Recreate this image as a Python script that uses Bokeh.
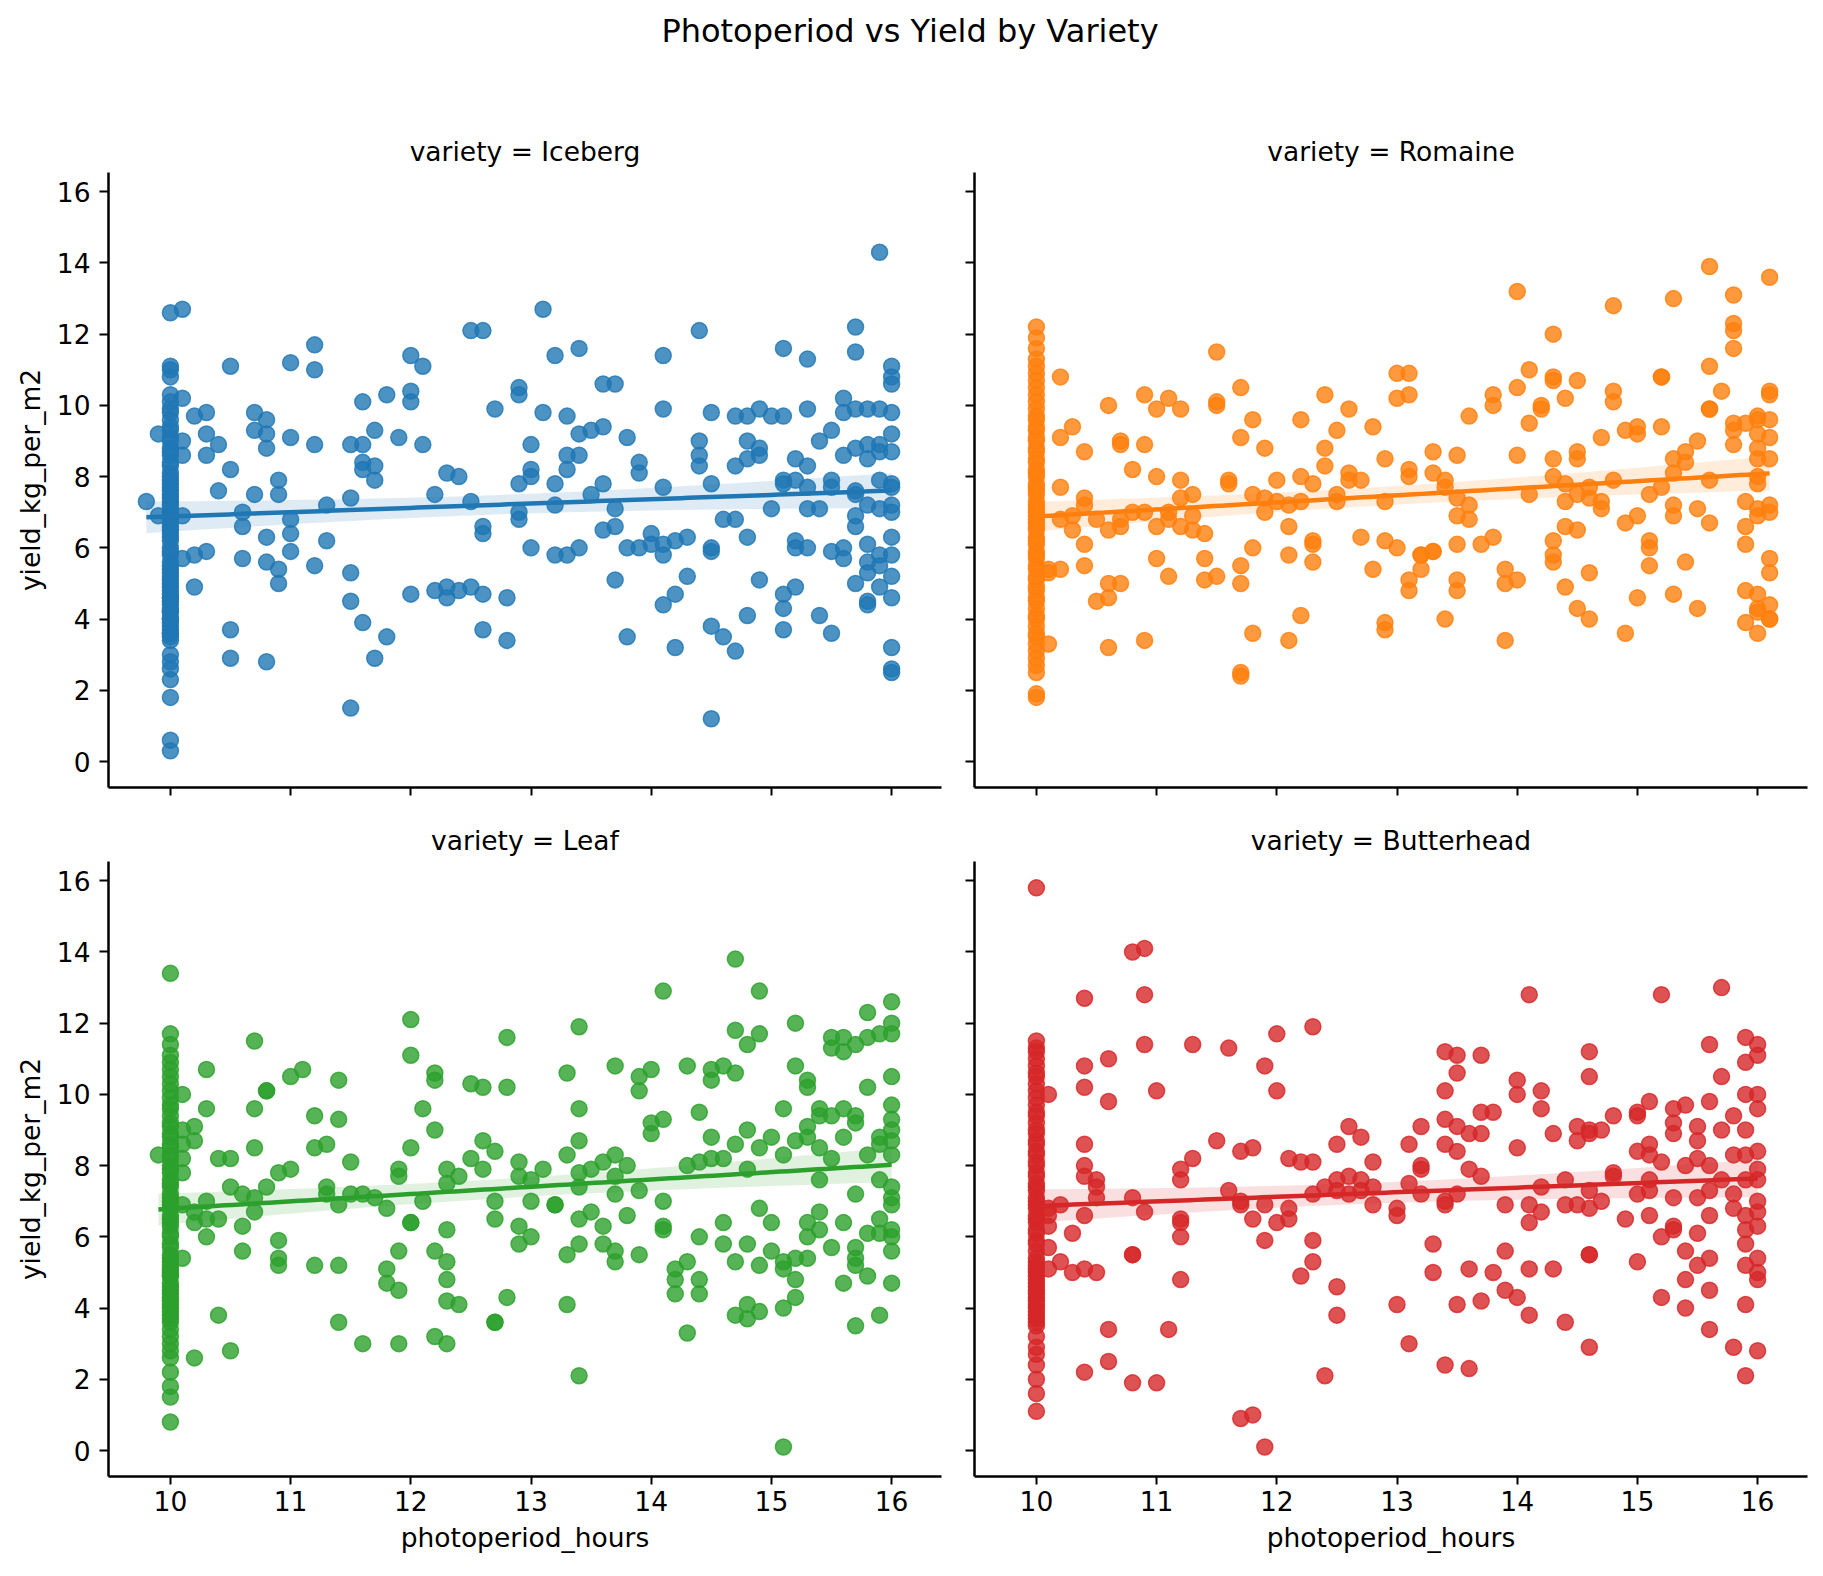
import numpy as np
from bokeh.plotting import figure
from bokeh.layouts import column, row
from bokeh.models import Div, FixedTicker, CustomJSTickFormatter, Range1d
from bokeh.embed import file_html
from bokeh.resources import INLINE

FONT = "DejaVu Sans"

# ---------------- data ----------------
varieties = ["Iceberg", "Romaine", "Leaf", "Butterhead"]
colors = ["#1f77b4", "#ff7f0e", "#2ca02c", "#d62728"]
x_ticks = [10, 11, 12, 13, 14, 15, 16]
y_ticks = [0, 2, 4, 6, 8, 10, 12, 14, 16]
chart_title = "Photoperiod vs Yield by Variety"
x_label = "photoperiod_hours"
y_label = "yield_kg_per_m2"

# yield values (kg/m2) grouped by photoperiod hours
iceberg = {
    9.8: [7.3], 9.9: [9.2, 6.9],
    10.0: [0.3, 0.6, 1.8, 2.3, 2.6, 2.8, 3.0, 3.4, 3.5, 3.6, 3.6, 3.7, 3.8, 3.9, 4.0, 4.0, 4.2, 4.2,
           4.3, 4.4, 4.5, 4.6, 4.6, 4.7, 4.8, 4.9, 5.0, 5.1, 5.2, 5.3, 5.4, 5.5, 5.6, 5.8, 5.9, 6.0,
           6.2, 6.3, 6.4, 6.5, 6.6, 6.7, 6.8, 6.9, 7.0, 7.1, 7.2, 7.3, 7.4, 7.5, 7.6, 7.7, 7.8, 7.9,
           8.0, 8.1, 8.3, 8.4, 8.6, 8.7, 8.8, 9.0, 9.1, 9.3, 9.4, 9.6, 9.8, 9.9, 10.1, 10.3, 10.8,
           11.0, 11.1, 12.6],
    10.1: [12.7, 10.2, 9.0, 8.6, 6.9, 5.7], 10.2: [9.7, 5.8, 4.9], 10.3: [9.8, 9.2, 8.6, 5.9],
    10.4: [8.9, 7.6], 10.5: [11.1, 8.2, 3.7, 2.9], 10.6: [7.0, 6.6, 5.7], 10.7: [9.8, 9.3, 7.5],
    10.8: [9.6, 9.2, 8.8, 6.3, 5.6, 2.8], 10.9: [7.9, 7.5, 5.4, 5.0], 11.0: [11.2, 9.1, 6.8, 6.4, 5.9],
    11.2: [11.7, 11.0, 8.9, 5.5], 11.3: [7.2, 6.2], 11.5: [8.9, 7.4, 5.3, 4.5, 1.5],
    11.6: [10.1, 8.9, 8.4, 8.2, 3.9], 11.7: [9.3, 8.3, 7.9, 2.9], 11.8: [10.3, 3.5], 11.9: [9.1],
    12.0: [11.4, 10.4, 10.1, 4.7], 12.1: [11.1, 8.9], 12.2: [7.5, 4.8], 12.3: [8.1, 4.9, 4.6],
    12.4: [8.0, 4.8], 12.5: [12.1, 7.3, 4.9], 12.6: [12.1, 6.6, 6.4, 4.7, 3.7], 12.7: [9.9],
    12.8: [4.6, 3.4], 12.9: [10.5, 10.3, 7.8, 7.0, 6.8], 13.0: [8.9, 8.2, 8.0, 6.0], 13.1: [12.7, 9.8],
    13.2: [11.4, 7.8, 7.2, 5.8], 13.3: [9.7, 8.6, 8.2, 5.8], 13.4: [11.6, 9.2, 8.6, 6.0], 13.5: [9.3, 7.5],
    13.6: [10.6, 9.4, 7.8, 6.5], 13.7: [10.6, 7.1, 6.6, 5.1], 13.8: [9.1, 6.0, 3.5], 13.9: [8.4, 8.1, 6.0],
    14.0: [6.4, 6.1], 14.1: [11.4, 9.9, 7.7, 6.1, 5.8, 4.4], 14.2: [6.2, 4.7, 3.2], 14.3: [6.3, 5.2],
    14.4: [12.1, 9.0, 8.6, 8.3], 14.5: [9.8, 7.8, 6.0, 5.9, 3.8, 1.2], 14.6: [6.8, 3.5],
    14.7: [9.7, 8.3, 6.8, 3.1], 14.8: [9.7, 9.0, 8.5, 6.3, 4.1], 14.9: [9.9, 8.8, 8.6, 5.1], 15.0: [9.7, 7.1],
    15.1: [11.6, 9.7, 7.9, 7.8, 4.7, 4.3, 3.7], 15.2: [8.5, 7.9, 6.2, 6.0, 4.9],
    15.3: [11.3, 9.9, 8.3, 7.7, 7.1, 6.0], 15.4: [9.0, 7.1, 4.1], 15.5: [9.3, 7.9, 7.7, 5.9, 3.6],
    15.6: [10.2, 9.8, 8.6, 6.0, 5.7], 15.7: [12.2, 11.5, 9.9, 8.8, 7.6, 7.5, 6.9, 6.6, 5.0],
    15.8: [9.9, 8.9, 8.5, 7.2, 6.1, 5.6, 5.3, 4.5, 4.4], 15.9: [14.3, 9.9, 8.9, 8.7, 7.9, 7.1, 5.8, 5.5, 4.9],
    16.0: [11.1, 10.8, 10.6, 9.8, 9.2, 8.7, 7.8, 7.7, 7.2, 7.0, 6.3, 5.8, 5.2, 4.6, 3.2, 2.6, 2.5],
}

romaine = {
    10.0: [1.8, 1.9, 2.5, 2.7, 2.9, 3.1, 3.3, 3.5, 3.6, 3.8, 4.0, 4.1, 4.3, 4.5, 4.6, 4.8, 4.9, 5.1,
           5.2, 5.4, 5.5, 5.7, 5.8, 5.9, 6.1, 6.2, 6.3, 6.5, 6.6, 6.7, 6.8, 6.9, 7.0, 7.1, 7.2, 7.3,
           7.5, 7.6, 7.7, 7.8, 8.0, 8.1, 8.2, 8.4, 8.5, 8.7, 8.8, 9.0, 9.1, 9.3, 9.4, 9.6, 9.7, 9.9,
           10.1, 10.3, 10.5, 10.7, 10.9, 11.1, 11.3, 11.6, 11.9, 12.2],
    10.1: [5.4, 5.3, 3.3], 10.2: [10.8, 9.1, 7.7, 6.8, 5.4], 10.3: [9.4, 6.9, 6.5],
    10.4: [8.7, 7.4, 7.2, 6.1, 5.5], 10.5: [6.8, 4.5], 10.6: [10.0, 6.5, 5.0, 4.6, 3.2],
    10.7: [9.0, 8.9, 6.8, 6.6, 5.0], 10.8: [8.2, 7.0], 10.9: [10.3, 8.9, 7.0, 3.4],
    11.0: [9.9, 8.0, 6.6, 5.7], 11.1: [10.2, 7.0, 6.8, 5.2], 11.2: [9.9, 7.9, 7.4, 6.6],
    11.3: [7.5, 6.9, 6.5], 11.4: [6.4, 5.7, 5.1], 11.5: [11.5, 10.1, 10.0, 5.2], 11.6: [7.9, 7.8],
    11.7: [10.5, 9.1, 5.5, 5.0, 2.5, 2.4], 11.8: [9.6, 7.5, 6.0, 3.6], 11.9: [8.8, 7.4, 7.0],
    12.0: [7.9, 7.3], 12.1: [7.2, 6.6, 5.8, 3.4], 12.2: [9.6, 8.0, 7.3, 4.1], 12.3: [7.8, 6.2, 6.1, 5.6],
    12.4: [10.3, 8.8, 8.3], 12.5: [9.3, 7.5, 7.3], 12.6: [9.9, 8.1, 7.9], 12.7: [7.9, 6.3], 12.8: [9.4, 5.4],
    12.9: [8.5, 7.3, 6.2, 3.9, 3.7], 13.0: [10.9, 10.2, 6.0], 13.1: [10.9, 10.3, 8.2, 8.0, 5.1, 4.8],
    13.2: [5.8, 5.8, 5.4], 13.3: [8.7, 8.1, 5.9, 5.9], 13.4: [7.9, 7.7, 4.0],
    13.5: [8.6, 7.4, 6.9, 6.1, 5.1, 4.8], 13.6: [9.7, 7.2, 6.8], 13.7: [6.1], 13.8: [10.3, 10.0, 6.3],
    13.9: [5.4, 5.0, 3.4], 14.0: [13.2, 10.5, 8.6, 5.1], 14.1: [11.0, 9.5, 7.5], 14.2: [10.0, 9.9],
    14.3: [12.0, 10.8, 10.7, 8.5, 8.0, 6.2, 5.8, 5.6], 14.4: [10.2, 7.8, 7.3, 6.6, 4.9],
    14.5: [10.7, 8.7, 8.5, 7.5, 6.5, 4.3], 14.6: [7.7, 7.4, 5.3, 4.0], 14.7: [9.1, 7.3, 7.1],
    14.8: [12.8, 10.4, 10.1, 7.9], 14.9: [9.3, 6.7, 3.6], 15.0: [9.4, 9.2, 6.9, 4.6],
    15.1: [7.5, 6.2, 6.0, 5.5], 15.2: [10.8, 10.8, 9.4, 7.7], 15.3: [13.0, 8.5, 8.1, 7.2, 6.9, 4.7],
    15.4: [8.7, 8.4, 5.6], 15.5: [9.0, 7.1, 4.3], 15.6: [13.9, 11.1, 9.9, 9.9, 7.9, 6.7], 15.7: [10.4],
    15.8: [13.1, 12.3, 12.1, 11.6, 9.5, 9.3, 8.9], 15.9: [9.5, 7.3, 6.6, 6.1, 4.8, 3.9],
    16.0: [9.7, 9.6, 9.2, 8.8, 8.5, 8.0, 7.8, 7.1, 6.9, 4.7, 4.3, 4.2, 3.6],
    16.1: [13.6, 10.4, 10.3, 9.6, 9.1, 8.5, 7.2, 7.0, 5.7, 5.3, 4.4, 4.0, 4.0],
}

leaf = {
    9.9: [8.3],
    10.0: [0.8, 1.5, 1.8, 2.2, 2.6, 2.8, 3.0, 3.2, 3.4, 3.6, 3.7, 3.8, 3.9, 4.0, 4.1, 4.2, 4.3, 4.4,
           4.5, 4.6, 4.7, 4.9, 4.9, 5.0, 5.1, 5.2, 5.3, 5.4, 5.5, 5.7, 5.8, 6.0, 6.1, 6.3, 6.4, 6.5,
           6.6, 6.8, 6.9, 7.0, 7.1, 7.2, 7.4, 7.5, 7.6, 7.8, 7.9, 8.0, 8.2, 8.3, 8.5, 8.6, 8.8, 8.9,
           9.1, 9.2, 9.4, 9.6, 9.7, 9.9, 10.1, 10.3, 10.5, 10.7, 10.9, 11.1, 11.4, 11.7, 13.4],
    10.1: [10.0, 9.0, 8.6, 8.2, 7.8, 6.9, 5.4], 10.2: [9.1, 8.7, 6.7, 6.4, 2.6],
    10.3: [10.7, 9.6, 7.0, 6.5, 6.0], 10.4: [8.2, 6.5, 3.8], 10.5: [8.2, 7.4, 2.8], 10.6: [7.2, 6.3, 5.6],
    10.7: [11.5, 9.6, 8.5, 7.1, 6.7], 10.8: [10.1, 10.1, 7.4], 10.9: [7.8, 5.9, 5.4, 5.2],
    11.0: [10.5, 7.9], 11.1: [10.7], 11.2: [9.4, 8.5, 5.2], 11.3: [8.6, 7.4, 7.2],
    11.4: [10.4, 9.3, 6.9, 5.2, 3.6], 11.5: [8.1, 7.2], 11.6: [7.2, 3.0], 11.7: [7.1],
    11.8: [6.8, 5.1, 4.7], 11.9: [7.9, 7.7, 5.6, 4.5, 3.0], 12.0: [12.1, 11.1, 8.5, 6.4, 6.4],
    12.1: [9.6, 7.0], 12.2: [10.6, 10.4, 9.0, 5.6, 3.2], 12.3: [7.9, 7.5, 6.2, 5.3, 4.8, 4.2, 3.0],
    12.4: [7.7, 4.1], 12.5: [10.3, 8.2], 12.6: [10.2, 8.7, 7.9], 12.7: [8.4, 7.0, 6.5, 3.6, 3.6],
    12.8: [11.6, 10.2, 4.3], 12.9: [8.1, 7.7, 6.3, 5.8], 13.0: [7.6, 7.0, 6.0], 13.1: [7.9],
    13.2: [6.9, 6.9], 13.3: [10.6, 8.3, 5.5, 4.1], 13.4: [11.9, 9.6, 8.7, 7.8, 7.4, 6.5, 5.8, 2.1],
    13.5: [7.9, 6.7], 13.6: [8.1, 6.3, 5.8], 13.7: [10.8, 8.3, 7.7, 7.2, 5.6, 5.3], 13.8: [8.0, 6.6],
    13.9: [10.5, 10.1, 7.3, 5.5], 14.0: [10.7, 9.2, 8.9], 14.1: [12.9, 9.3, 7.0, 6.3, 6.2],
    14.2: [5.1, 4.8, 4.4], 14.3: [10.8, 8.0, 5.3, 3.3], 14.4: [9.5, 8.1, 6.0, 4.8, 4.4],
    14.5: [10.7, 10.4, 8.8, 8.2], 14.6: [10.8, 8.2, 6.4, 5.8], 14.7: [13.8, 11.8, 10.6, 8.6, 5.3, 3.8],
    14.8: [11.4, 9.0, 7.9, 5.8, 4.1, 3.7], 14.9: [12.9, 11.7, 8.5, 6.8, 5.2, 3.9], 15.0: [8.8, 6.4, 5.6],
    15.1: [9.6, 8.3, 5.3, 5.1, 4.0, 0.1], 15.2: [12.0, 10.8, 8.7, 5.4, 4.8, 4.3],
    15.3: [10.4, 10.2, 9.1, 8.8, 6.4, 6.0, 5.4], 15.4: [9.6, 9.4, 8.5, 7.6, 6.7, 6.2],
    15.5: [11.6, 11.3, 9.4, 8.2, 5.7], 15.6: [11.6, 11.2, 9.6, 8.8, 6.4, 4.7],
    15.7: [11.4, 9.4, 9.2, 7.2, 5.7, 5.4, 5.2, 3.5], 15.8: [12.3, 11.6, 10.2, 8.3, 6.1, 4.9],
    15.9: [11.7, 8.8, 8.6, 7.6, 6.5, 6.1, 3.8],
    16.0: [12.6, 12.0, 11.7, 10.5, 9.7, 9.3, 9.0, 8.7, 8.3, 7.4, 7.1, 6.9, 6.2, 6.0, 5.6, 4.7],
}

butterhead = {
    10.0: [1.1, 1.6, 2.0, 2.4, 2.7, 2.9, 3.2, 3.5, 3.6, 3.7, 3.8, 3.9, 4.0, 4.1, 4.2, 4.3, 4.4, 4.5,
           4.6, 4.7, 4.8, 4.9, 5.0, 5.1, 5.2, 5.3, 5.4, 5.6, 5.8, 5.9, 6.1, 6.2, 6.4, 6.5, 6.6, 6.8,
           6.9, 7.0, 7.1, 7.3, 7.4, 7.5, 7.7, 7.8, 8.0, 8.1, 8.3, 8.4, 8.6, 8.7, 8.9, 9.0, 9.2, 9.4,
           9.5, 9.7, 9.9, 10.1, 10.3, 10.5, 10.6, 10.8, 11.0, 11.2, 11.3, 11.5, 15.8],
    10.1: [10.0, 6.8, 6.6, 6.3, 5.7, 5.1], 10.2: [6.9, 5.3], 10.3: [6.1, 5.0],
    10.4: [12.7, 10.8, 10.2, 8.6, 8.0, 7.7, 6.6, 5.1, 2.2], 10.5: [7.6, 7.4, 7.1, 5.0],
    10.6: [11.0, 9.8, 3.4, 2.5], 10.8: [14.0, 7.1, 5.5, 5.5, 1.9], 10.9: [14.1, 12.8, 11.4, 6.7],
    11.0: [10.1, 1.9], 11.1: [3.4], 11.2: [7.9, 7.6, 6.5, 6.4, 6.0, 4.8], 11.3: [11.4, 8.2],
    11.5: [8.7], 11.6: [11.3, 7.3], 11.7: [8.4, 7.0, 6.9, 0.9], 11.8: [8.5, 6.5, 1.0],
    11.9: [10.8, 6.9, 5.9, 0.1], 12.0: [11.7, 10.1, 6.4], 12.1: [8.2, 6.8, 6.5], 12.2: [8.1, 4.9],
    12.3: [11.9, 8.1, 7.2, 5.9, 5.3], 12.4: [7.4, 2.1], 12.5: [8.6, 7.6, 7.3, 4.6, 3.8],
    12.6: [9.1, 7.7, 7.2], 12.7: [8.8, 7.6, 7.3], 12.8: [8.1, 7.4, 6.9], 13.0: [6.8, 6.6, 4.1],
    13.1: [8.6, 7.5, 3.0], 13.2: [9.1, 8.0, 7.9, 7.2], 13.3: [5.8, 5.0],
    13.4: [11.2, 10.1, 9.3, 8.6, 7.0, 6.9, 2.4], 13.5: [11.1, 10.6, 9.1, 8.4, 7.2, 4.1],
    13.6: [8.9, 7.9, 5.1, 2.3], 13.7: [11.1, 9.5, 8.9, 7.7, 4.2], 13.8: [9.5, 5.0], 13.9: [6.9, 5.6, 4.5],
    14.0: [10.4, 10.0, 8.5, 4.3], 14.1: [12.8, 6.9, 6.4, 5.1, 3.8], 14.2: [10.1, 9.6, 7.4, 6.7],
    14.3: [8.9, 5.1], 14.4: [7.6, 6.9, 3.6], 14.5: [9.1, 8.7, 6.9],
    14.6: [11.2, 10.5, 9.0, 8.9, 7.3, 6.8, 5.5, 5.5, 2.9], 14.7: [9.0, 7.0], 14.8: [9.4, 7.8, 7.7],
    14.9: [6.5], 15.0: [9.5, 9.4, 8.4, 7.2, 5.3], 15.1: [9.8, 8.6, 8.3, 7.6, 7.3, 6.6],
    15.2: [12.8, 8.1, 6.0, 4.3], 15.3: [9.6, 9.2, 8.9, 7.1, 6.3, 6.2], 15.4: [9.7, 8.0, 5.6, 4.8, 4.0],
    15.5: [9.1, 8.7, 8.2, 7.1, 6.1, 5.2], 15.6: [11.4, 9.8, 8.0, 7.3, 6.6, 5.4, 4.5, 3.4],
    15.7: [13.0, 10.5, 9.0, 7.6], 15.8: [9.4, 8.3, 7.2, 6.8, 2.9],
    15.9: [11.6, 10.9, 10.0, 9.0, 8.3, 7.6, 6.6, 6.2, 5.8, 5.2, 4.1, 2.1],
    16.0: [11.4, 11.1, 10.0, 9.6, 8.4, 7.9, 7.6, 7.0, 6.7, 6.3, 5.4, 5.0, 4.8, 2.8],
}

datasets = [iceberg, romaine, leaf, butterhead]

# ---------------- layout constants ----------------
FRAME_W, FRAME_H = 833, 615
X_RANGE = (9.485, 16.415)
Y_RANGE = (-0.73, 16.54)


def flatten(d):
    xs, ys = [], []
    for h, vals in d.items():
        for v in vals:
            xs.append(h)
            ys.append(v)
    return np.array(xs, dtype=float), np.array(ys, dtype=float)


def make_panel(name, data, color, is_left, is_bottom):
    p = figure(
        frame_width=FRAME_W, frame_height=FRAME_H,
        x_range=Range1d(*X_RANGE), y_range=Range1d(*Y_RANGE),
        output_backend="svg", toolbar_location=None,
        min_border_left=108 if is_left else 28,
        min_border_right=5 if is_left else 12,
        min_border_top=54 if is_bottom else 68,
        min_border_bottom=95 if is_bottom else 20,
        title="variety = " + name,
    )
    p.outline_line_color = None
    p.grid.visible = False
    p.background_fill_color = "white"
    p.border_fill_color = "white"

    p.title.align = "center"
    p.title.text_font = FONT
    p.title.text_font_size = "26.5px"
    p.title.text_font_style = "normal"
    p.title.text_color = "black"
    p.title.standoff = 11

    p.xaxis.ticker = FixedTicker(ticks=x_ticks, minor_ticks=[])
    p.yaxis.ticker = FixedTicker(ticks=y_ticks, minor_ticks=[])
    for ax in (p.xaxis[0], p.yaxis[0]):
        ax.axis_line_width = 2.5
        ax.axis_line_color = "black"
        ax.major_tick_line_width = 2
        ax.major_tick_line_color = "black"
        ax.major_tick_in = 0
        ax.minor_tick_line_color = None
        ax.major_label_text_font = FONT
        ax.major_label_text_font_size = "26.5px"
        ax.major_label_text_color = "black"
        ax.axis_label_text_font = FONT
        ax.axis_label_text_font_size = "26.5px"
        ax.axis_label_text_font_style = "normal"
        ax.axis_label_text_color = "black"
        ax.axis_label_standoff = 8
    p.xaxis.major_tick_out = 8
    p.xaxis.major_label_standoff = 6
    p.yaxis.major_tick_out = 9
    p.yaxis.major_label_standoff = 9

    if is_bottom:
        p.xaxis.axis_label = x_label
    else:
        p.xaxis.formatter = CustomJSTickFormatter(code="return ''")
        p.xaxis.major_label_text_font_size = "0px"
        p.xaxis.major_label_standoff = 0
    if is_left:
        p.yaxis.axis_label = y_label
    else:
        p.yaxis.formatter = CustomJSTickFormatter(code="return ''")
        p.yaxis.major_label_text_font_size = "0px"
        p.yaxis.major_label_standoff = 0

    xs, ys = flatten(data)
    p.scatter(xs, ys, marker="circle", size=16, fill_color=color, line_color=color,
              fill_alpha=0.8, line_alpha=0.8, line_width=1.5)

    # linear regression with 95% confidence band
    slope, intercept = np.polyfit(xs, ys, 1)
    gx = np.linspace(xs.min(), xs.max(), 100)
    pred = intercept + slope * gx
    resid = ys - (intercept + slope * xs)
    n = len(xs)
    s = np.sqrt(np.sum(resid ** 2) / (n - 2))
    sxx = np.sum((xs - xs.mean()) ** 2)
    se = s * np.sqrt(1.0 / n + (gx - xs.mean()) ** 2 / sxx)
    p.varea(x=gx, y1=pred - 1.96 * se, y2=pred + 1.96 * se, fill_color=color, fill_alpha=0.15)
    p.line(gx, pred, line_color=color, line_width=4.5)
    return p


panels = []
for i, (name, data, color) in enumerate(zip(varieties, datasets, colors)):
    panels.append(make_panel(name, data, color, is_left=(i % 2 == 0), is_bottom=(i >= 2)))

title_div = Div(
    text=('<div style="font-family: \'DejaVu Sans\'; font-size: 32px; line-height: 63px; '
          'text-align: center; color: black; width: 1813px; margin: 0; padding: 0 0 0 7px;">'
          + chart_title + '</div>'),
    width=1820, height=104, margin=0,
)

layout = column(title_div, row(panels[0], panels[1]), row(panels[2], panels[3]))

with open("out.html", "w") as f:
    f.write(file_html(layout, INLINE, title=chart_title))
